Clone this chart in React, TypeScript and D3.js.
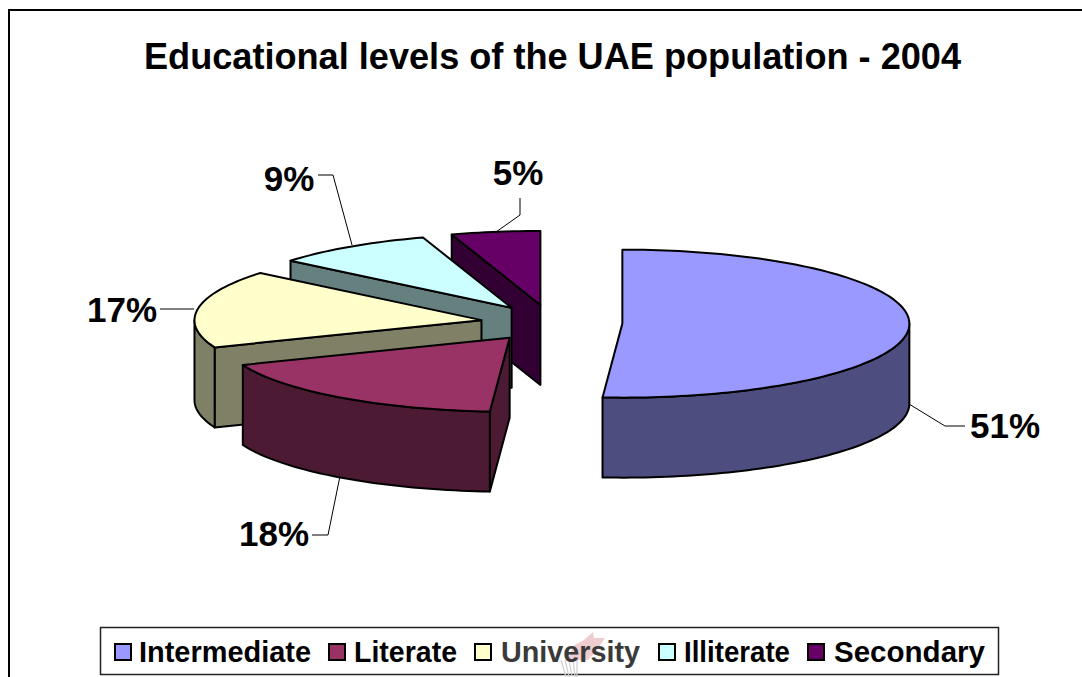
import React from "react";
import * as d3 from "d3";

const categories = ["Intermediate", "Literate", "University", "Illiterate", "Secondary"];
const shares = [51.1, 17.9, 17, 9, 5];
const topColors = ["#9999FF", "#993366", "#FFFFCC", "#CCFFFF", "#660066"];
const wallColors = ["#4D4D80", "#4D1A33", "#808066", "#668080", "#330033"];
const legendTextColors = ["#000", "#000", "#3A3A3A", "#000", "#000"];
const titleText = "Educational levels of the UAE population - 2004";

const W = 1082, H = 677;
const cx = 551.5, cy = 323, rx = 287, ry = 74, depth = 80, explode = 0.247;
const sx = d3.scaleLinear().domain([-1, 1]).range([cx - rx, cx + rx]);
const sy = d3.scaleLinear().domain([-1, 1]).range([cy + ry, cy - ry]);
const line = d3.line<[number, number]>();
const FONT = "'Liberation Sans', Arial, sans-serif";

const pie = d3.pie<number>().sort(null).startAngle(0).endAngle(2 * Math.PI);
const arcs = pie(shares);

type Pt = [number, number];
function sliceGeom(i: number) {
  const a0 = arcs[i].startAngle, a1 = arcs[i].endAngle, mid = (a0 + a1) / 2;
  const ux = explode * Math.sin(mid), uy = explode * Math.cos(mid);
  const at = (t: number, r = 1): Pt => [sx(ux + r * Math.sin(t)), sy(uy + r * Math.cos(t))];
  const apex = at(0, 0);
  const n = Math.max(4, Math.ceil((a1 - a0) * 40));
  const rim = d3.range(n + 1).map((k) => at(a0 + ((a1 - a0) * k) / n));
  const top = [apex, ...rim];
  const down = (p: Pt): Pt => [p[0], p[1] + depth];
  // rim wall: the part of the rim that faces the viewer (90 to 270 degrees)
  const w0 = Math.max(a0, Math.PI / 2), w1 = Math.min(a1, (3 * Math.PI) / 2);
  let rimWall: Pt[] | null = null;
  if (w1 > w0) {
    const m = Math.ceil((w1 - w0) * 40);
    const seg = d3.range(m + 1).map((k) => at(w0 + ((w1 - w0) * k) / m));
    rimWall = [...seg, ...seg.slice().reverse().map(down)];
  }
  const startPt = at(a0);
  const startWall: Pt[] = [apex, startPt, down(startPt), down(apex)];
  return { top, rimWall, startWall };
}

const drawOrder = [4, 3, 2, 1, 0];

const leaderLines: Pt[][] = [
  [[909, 404], [945, 426], [965, 426]],
  [[340, 476], [328, 535], [312, 535]],
  [[194, 309], [160, 309]],
  [[352, 245], [333, 175], [318, 175]],
  [[496, 232], [520, 215], [520, 198]],
];
const labelPos: Pt[] = [[1005, 438], [274, 546], [122, 322], [289, 191], [518, 185]];
const swatchX = [115, 329, 475, 659, 808];
const legendTextX = [139, 354, 501, 684, 834];
const legendTextW = [172, 103, 139, 106, 151];
const watermarkStrands = [
  "M561,660 L566,677", "M565,660 L569,677", "M569,660 L572,677", "M573,660 L575,677", "M577,660 L577,677",
];

export default function App() {
  return (
    <svg width={W} height={H} viewBox={`0 0 ${W} ${H}`}
      style={{ position: "absolute", left: 0, top: 0, background: "#fff", display: "block" }}>
      <rect x={9} y={10} width={W + 20} height={H + 20} fill="#fff" stroke="#000" strokeWidth={2} />
      <text x={552.5} y={69} textAnchor="middle" fontFamily={FONT} fontWeight="bold" fontSize={36}
        textLength={817} lengthAdjust="spacingAndGlyphs">{titleText}</text>

      {leaderLines.map((l, i) => (
        <path key={i} d={line(l) ?? ""} fill="none" stroke="#000" strokeWidth={1} />
      ))}

      {drawOrder.map((i) => {
        const g = sliceGeom(i);
        const sw = { stroke: "#000", strokeWidth: 2, strokeLinejoin: "round" as const };
        return (
          <g key={categories[i]}>
            {i !== 0 && <path d={(line(g.startWall) ?? "") + "Z"} fill={wallColors[i]} {...sw} />}
            {g.rimWall && <path d={(line(g.rimWall) ?? "") + "Z"} fill={wallColors[i]} {...sw} />}
            <path d={(line(g.top) ?? "") + "Z"} fill={topColors[i]} {...sw} />
          </g>
        );
      })}

      {shares.map((s, i) => (
        <text key={i} x={labelPos[i][0]} y={labelPos[i][1]} textAnchor="middle" fontFamily={FONT}
          fontWeight="bold" fontSize={35}>{Math.round(s)}%</text>
      ))}

      <rect x={100.5} y={627.5} width={898} height={47} fill="#fff" stroke="#222" strokeWidth={1.5} />
      {/* faint watermark behind the legend */}
      <path d="M568,660 L573,646 L584,640 L593,632 L594,638 L605,638 L597,650 L588,660 Z" fill="#EBC4C8" opacity={0.85} />
      {watermarkStrands.map((d, i) => (
        <path key={i} d={d} stroke="#CFCFCF" strokeWidth={1.2} fill="none" />
      ))}
      {categories.map((c, i) => (
        <g key={c}>
          <rect x={swatchX[i]} y={644} width={16} height={16} fill={topColors[i]} stroke="#000" strokeWidth={2} />
          <text x={legendTextX[i]} y={662} fontFamily={FONT} fontWeight="bold" fontSize={29}
            fill={legendTextColors[i]} textLength={legendTextW[i]} lengthAdjust="spacingAndGlyphs">{c}</text>
        </g>
      ))}
    </svg>
  );
}
